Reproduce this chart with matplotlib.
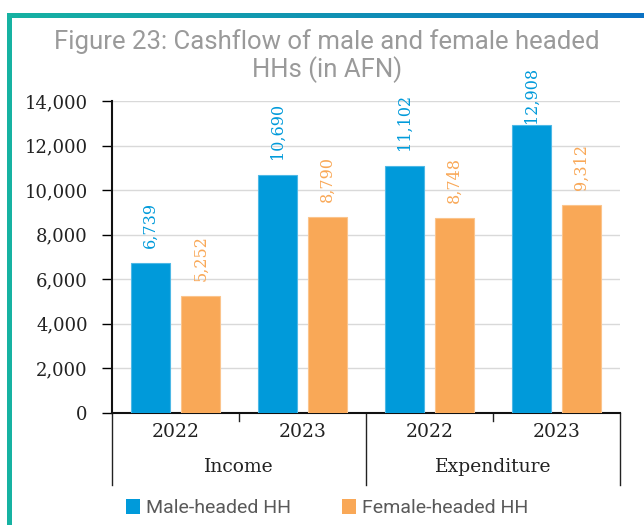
import numpy as np
import matplotlib
matplotlib.use("Agg")
import matplotlib.pyplot as plt
import matplotlib.transforms as mtransforms
from matplotlib.ticker import FuncFormatter

groups = ["Income", "Expenditure"]
years = ["2022", "2023", "2022", "2023"]
male = [6739, 10690, 11102, 12908]
female = [5252, 8790, 8748, 9312]

male_color = "#009ADA"
female_color = "#F9A857"
serif = "DejaVu Serif"

fig = plt.figure(figsize=(6.44, 5.25), dpi=100)

# frame: gradient bar on top, teal bar on the left
frame_top = fig.add_axes([7 / 644, 1 - 18 / 525, 1 - 7 / 644, 5 / 525])
grad = np.linspace(0, 1, 256).reshape(1, -1)
cmap = matplotlib.colors.LinearSegmentedColormap.from_list("frame", ["#16B2A2", "#0B72C4"])
frame_top.imshow(grad, aspect="auto", cmap=cmap)
frame_top.axis("off")
frame_left = fig.add_axes([7 / 644, 0, 5 / 644, 1 - 13 / 525])
frame_left.set_facecolor("#16B2A2")
frame_left.set_xticks([])
frame_left.set_yticks([])
for s in frame_left.spines.values():
    s.set_visible(False)

ax = fig.add_axes([112 / 644, 112 / 525, 508 / 644, 312 / 525])

x = np.arange(len(years))
w = 0.307
off = 0.197
bm = ax.bar(x - off, male, w, color=male_color, edgecolor="#4DB8E6", linewidth=0.8,
            label="Male-headed HH", zorder=3)
bf = ax.bar(x + off, female, w, color=female_color, edgecolor="#FBC48C", linewidth=0.8,
            label="Female-headed HH", zorder=3)


def add_labels(bars, vals, color):
    for rect, v in zip(bars, vals):
        # labels near the top of the axis are pulled down onto the bar
        pad = 11 if v < 12000 else 1.5
        ax.annotate(f"{v:,}", (rect.get_x() + rect.get_width() / 2, v), xytext=(0, pad),
                    textcoords="offset points", rotation=90, ha="center", va="bottom",
                    color=color, fontsize=11.5, family=serif, annotation_clip=False)


add_labels(bm, male, male_color)
add_labels(bf, female, female_color)

ax.set_xlim(-0.5, 3.5)
ax.set_ylim(0, 14000)
ax.set_yticks(range(0, 14001, 2000))
ax.yaxis.set_major_formatter(FuncFormatter(lambda v, p: f"{int(v):,}"))
ax.tick_params(axis="y", length=7, width=1, labelsize=13, pad=10.5, labelcolor="#222222")
for lab in ax.get_yticklabels():
    lab.set_family(serif)
ax.grid(axis="y", color="#D9D9D9", linewidth=1, zorder=0)
ax.spines["top"].set_visible(False)
ax.spines["right"].set_visible(False)
ax.spines["left"].set_linewidth(1.5)
ax.spines["bottom"].set_linewidth(1.5)
ax.spines["left"].set_color("#111111")
ax.spines["bottom"].set_color("#111111")

# two-level category axis
ax.set_xticks([])
trans = mtransforms.blended_transform_factory(ax.transData, ax.transAxes)
for xi in [-0.5, 1.5, 3.5]:
    ax.plot([xi, xi], [0, -0.23], transform=trans, color="#222222", lw=1, clip_on=False)
for xi in [0.5, 2.5]:
    ax.plot([xi, xi], [0, -0.025], transform=trans, color="#222222", lw=1, clip_on=False)
for xi, yr in zip(x, years):
    ax.text(xi, -0.062, yr, transform=trans, ha="center", va="center",
            fontsize=13.5, family=serif, color="#222222")
for xi, g in zip([0.5, 2.5], groups):
    ax.text(xi, -0.172, g, transform=trans, ha="center", va="center",
            fontsize=13.5, family=serif, color="#222222")

# title, one text per line
fig.text(0.508, 1 - 42 / 525, "Figure 23: Cashflow of male and female headed",
         ha="center", va="center", fontsize=18.5, family="Roboto", color="#9A9A9A")
fig.text(0.508, 1 - 70 / 525, "HHs (in AFN)",
         ha="center", va="center", fontsize=18.5, family="Roboto", color="#9A9A9A")

fig.legend(handles=[bm, bf], loc="center", bbox_to_anchor=(0.508, 0.032), ncol=2,
           frameon=False, prop={"family": "Roboto", "size": 14},
           handlelength=0.75, handleheight=0.75, handletextpad=0.3, columnspacing=2.6,
           labelcolor="#595959")
for h in fig.legends[0].legend_handles:
    h.set_linewidth(0)

fig.savefig("out.png", dpi=100)
